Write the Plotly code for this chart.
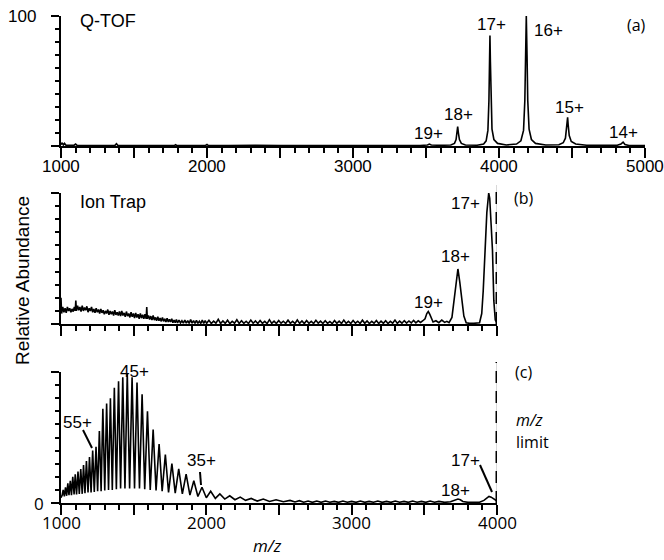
import plotly.graph_objects as go

# ---------------- data ----------------
# (a) Q-TOF spectrum
qtof_mz = [1000, 1008, 1016, 1024, 1034, 1060, 1090, 1100, 1110, 1180, 1260, 1300, 1370, 1380, 1390,
           1500, 1600, 1700, 1775, 1785, 1795, 1900, 1990, 2000, 2010, 2150, 2330, 2500, 2700, 2900,
           3100, 3300, 3460, 3510, 3523, 3536, 3600, 3670, 3695, 3706, 3712, 3717, 3722, 3729, 3742,
           3770, 3850, 3895, 3912, 3924, 3931, 3935, 3938, 3941, 3945, 3952, 3965, 3990, 4050, 4120,
           4150, 4168, 4177, 4182, 4187, 4192, 4197, 4206, 4222, 4250, 4320, 4410, 4440, 4455, 4463,
           4467, 4470, 4474, 4481, 4495, 4525, 4600, 4720, 4810, 4835, 4850, 4863, 4890, 4950, 5000]
qtof_int = [1.0, 2.5, 0.8, 2.0, 0.6, 0.5, 0.6, 1.5, 0.5, 0.4, 0.6, 0.3, 0.5, 1.8, 0.4,
            0.3, 0.4, 0.3, 0.3, 1.0, 0.3, 0.3, 0.4, 1.2, 0.3, 0.3, 0.6, 0.3, 0.3, 0.2,
            0.3, 0.3, 0.4, 0.8, 1.5, 0.8, 0.5, 0.8, 2.0, 5.0, 10.0, 15.0, 10.0, 5.0, 2.0,
            0.8, 0.6, 1.5, 4.0, 12.0, 35.0, 65.0, 85.0, 65.0, 35.0, 13.0, 5.0, 2.0, 0.8, 1.5,
            4.0, 12.0, 35.0, 70.0, 100.0, 70.0, 35.0, 13.0, 5.0, 2.0, 0.8, 1.0, 2.5, 6.0, 13.0,
            18.0, 22.0, 16.0, 8.0, 3.5, 1.5, 0.6, 0.4, 0.6, 1.5, 3.0, 1.2, 0.4, 0.3, 0.3]

# (b) Ion trap spectrum
trap_mz = [1000, 1004, 1012, 1020, 1028, 1036, 1044, 1052, 1060, 1068, 1076, 1084, 1092, 1098, 1102,
           1106, 1114, 1122, 1130, 1138, 1146, 1154, 1162, 1170, 1178, 1186, 1194, 1202, 1210, 1218,
           1226, 1234, 1242, 1250, 1258, 1266, 1274, 1282, 1290, 1298, 1306, 1314, 1322, 1330, 1338,
           1346, 1354, 1362, 1370, 1378, 1386, 1394, 1402, 1410, 1418, 1426, 1434, 1442, 1450, 1458,
           1466, 1474, 1482, 1490, 1498, 1506, 1514, 1522, 1530, 1538, 1546, 1554, 1562, 1570, 1578,
           1586, 1590, 1594, 1602, 1610, 1618, 1626, 1634, 1642, 1650, 1658, 1666, 1674, 1682, 1690,
           1698, 1706, 1714, 1722, 1730, 1738, 1746, 1754, 1762, 1770, 1778, 1786, 1794, 1802, 1812,
           1822, 1832, 1842, 1852, 1862, 1872, 1882, 1892, 1902, 1912, 1922, 1932, 1942, 1952, 1962,
           1972, 1982, 1992, 2002, 2018, 2034, 2050, 2066, 2082, 2098, 2114, 2130, 2146, 2162, 2178,
           2194, 2210, 2226, 2242, 2258, 2274, 2290, 2306, 2322, 2338, 2354, 2370, 2386, 2402, 2418,
           2434, 2450, 2466, 2482, 2498, 2514, 2530, 2546, 2562, 2578, 2594, 2610, 2626, 2642, 2658,
           2674, 2690, 2706, 2722, 2738, 2754, 2770, 2786, 2802, 2818, 2834, 2850, 2866, 2882, 2898,
           2914, 2930, 2946, 2962, 2978, 2994, 3010, 3026, 3042, 3058, 3074, 3090, 3106, 3122, 3138,
           3154, 3170, 3186, 3202, 3218, 3234, 3250, 3266, 3282, 3298, 3314, 3330, 3346, 3362, 3378,
           3394, 3410, 3426, 3442, 3458, 3474, 3490, 3505, 3517, 3527, 3537, 3548, 3560, 3580, 3600,
           3620, 3640, 3655, 3670, 3690, 3705, 3718, 3731, 3744, 3759, 3772, 3788, 3810, 3840, 3865,
           3880, 3895, 3905, 3918, 3930, 3943, 3950, 3960, 3969, 3978, 3988, 4000]
trap_int = [20, 8, 13, 9, 12, 8.5, 13, 10, 12, 9, 11.5, 9.5, 13, 10, 18,
            10, 14, 10.5, 13, 9.5, 14, 10, 12.5, 10.5, 13.5, 9, 12, 10, 13, 9,
            11.5, 8.5, 12, 9, 11, 8, 11.5, 8.5, 10.5, 7.5, 10, 8, 11, 7, 10,
            7.5, 9.5, 6.5, 10.5, 7, 9, 6.5, 9.5, 6, 10, 6.5, 8.5, 5.5, 9.5, 6,
            8, 5, 9, 5.5, 8, 4.5, 8.5, 5, 7.5, 4, 8, 4.5, 7, 4, 7.5,
            4, 13, 4, 6.5, 3.5, 6, 3, 6.5, 3, 5, 2.5, 5.5, 2.5, 4.5, 2,
            5, 2, 4, 1.5, 4.5, 1.5, 3.5, 1.5, 4, 1, 3, 1, 3.5, 0.8, 3,
            0.8, 2.5, 0.6, 3, 0.6, 2.5, 0.5, 3.5, 0.6, 2.5, 0.5, 2.8, 0.5, 2.2, 0.4,
            3, 0.5, 2.5, 0.5, 2.8, 0.4, 2.2, 0.6, 3.5, 0.4, 2.4, 0.5, 2.9, 0.3, 2.0,
            0.6, 3.2, 0.4, 2.5, 0.5, 2.1, 0.4, 3.0, 0.6, 2.3, 0.4, 2.7, 0.5, 2.0, 0.3,
            3.3, 0.5, 2.2, 0.4, 2.6, 0.6, 2.1, 0.4, 2.9, 0.5, 2.0, 0.4, 3.1, 0.5, 2.3,
            0.3, 2.6, 0.5, 2.0, 0.4, 2.8, 0.6, 2.2, 0.4, 2.5, 0.5, 1.9, 0.3, 2.7, 0.5,
            2.2, 0.4, 3.0, 0.5, 2.0, 0.4, 2.6, 0.6, 2.1, 0.4, 2.9, 0.5, 2.3, 0.4, 2.0,
            0.6, 2.7, 0.4, 2.2, 0.5, 2.5, 0.4, 2.0, 0.6, 3.0, 0.5, 2.2, 0.6, 2.6, 0.7,
            2.3, 0.8, 2.8, 0.9, 2.4, 1.2, 2.5, 4, 8, 9.5, 7.5, 4, 1.5, 2.5, 1,
            3, 1.2, 2, 1, 5, 18, 32, 42, 32, 18, 6, 1, 0.5, 0.5, 0.5,
            1, 8, 25, 56, 85, 100, 96, 75, 56, 18, 3, 1]

# (c) Ion trap spectrum, second sample
ion_mz = [1000, 1008, 1015, 1023, 1031, 1039, 1047, 1055, 1064, 1072, 1081, 1090, 1098, 1107, 1117,
          1126, 1136, 1146, 1155, 1165, 1175, 1186, 1196, 1207, 1218, 1229, 1241, 1252, 1264, 1276,
          1288, 1301, 1314, 1327, 1340, 1353, 1367, 1381, 1396, 1410, 1425, 1440, 1456, 1472, 1489,
          1506, 1523, 1540, 1558, 1576, 1595, 1614, 1634, 1654, 1675, 1696, 1718, 1740, 1763, 1786,
          1810, 1835, 1861, 1887, 1914, 1942, 1970, 2000, 2030, 2062, 2093, 2127, 2161, 2197, 2233,
          2270, 2309, 2350, 2392, 2435, 2480, 2530, 2576, 2610, 2640, 2670, 2700, 2730, 2760, 2790,
          2820, 2850, 2880, 2910, 2940, 2970, 3000, 3030, 3060, 3090, 3120, 3150, 3180, 3210, 3240,
          3270, 3300, 3330, 3360, 3390, 3420, 3450, 3480, 3510, 3540, 3570, 3600, 3640, 3680, 3700,
          3715, 3731, 3748, 3765, 3800, 3840, 3880, 3910, 3930, 3945, 3960, 3980, 3995, 4000]
ion_int = [4, 6, 10, 5, 12, 5.5, 15, 6, 17, 6, 20, 6.5, 22, 6.5, 24,
           7, 26, 7, 29, 7.5, 32, 8, 35, 8, 40, 8.5, 43, 9, 55, 9,
           72, 9.5, 76, 10, 80, 10, 88, 10.5, 93, 11, 96, 11, 99, 11, 96,
           11, 92, 11, 83, 10.5, 70, 10, 56, 9.5, 45, 9, 37, 8, 30, 7.5,
           26, 7, 22, 6, 17, 5, 12, 4, 9, 3.5, 7, 3, 5.5, 2.5, 4.5,
           2, 3.5, 1.5, 3, 1.2, 2.5, 1, 2, 0.8, 1.8, 0.6, 1.5, 0.5, 1.5, 0.5,
           1.5, 0.6, 1.2, 0.5, 1.5, 0.6, 1.2, 0.5, 1.5, 0.5, 1.2, 0.6, 1.5, 0.5, 1.2,
           0.5, 1.5, 0.6, 1.2, 0.5, 1.5, 0.6, 1.2, 0.5, 1.5, 0.6, 1.2, 0.5, 1.0, 1.8,
           2.8, 3.0, 2.5, 1.2, 0.5, 0.8, 0.6, 2, 4, 5, 4.5, 3, 2, 1.5]

x_ticks_a = [1000, 1500, 2000, 2500, 3000, 3500, 4000, 4500, 5000]
x_labels_a = ["1000", "", "2000", "", "3000", "", "4000", "", "5000"]
x_ticks_bc = [1000, 1500, 2000, 2500, 3000, 3500, 4000]
x_labels_c = ["1000", "", "2000", "", "3000", "", "4000"]
mz_limit = 4000

# ---------------- layout helpers ----------------
W, H = 664, 560
def fx(p):
    return p / W
def fy(p):
    return 1 - p / H

ARIAL = "Liberation Sans, Arial, sans-serif"
OPEN = "Open Sans, Liberation Sans, sans-serif"

fig = go.Figure()
line_style = dict(color="black", width=1.6)
fig.add_trace(go.Scatter(x=qtof_mz, y=qtof_int, mode="lines", line=line_style,
                         xaxis="x", yaxis="y", showlegend=False, hoverinfo="skip"))
fig.add_trace(go.Scatter(x=trap_mz, y=trap_int, mode="lines", line=line_style,
                         xaxis="x2", yaxis="y2", showlegend=False, hoverinfo="skip"))
fig.add_trace(go.Scatter(x=ion_mz, y=ion_int, mode="lines", line=line_style,
                         xaxis="x3", yaxis="y3", showlegend=False, hoverinfo="skip"))

def xaxis(domain, rng, anchor, tickvals):
    return dict(domain=domain, range=rng, anchor=anchor, showline=True, linecolor="black",
                linewidth=2, ticks="outside", tickvals=tickvals,
                ticklen=10, tickwidth=2, tickcolor="black", showgrid=False, zeroline=False,
                automargin=False, showticklabels=False,
                minor=dict(tickmode="linear", tick0=1000, dtick=100, ticks="outside",
                           ticklen=5, tickwidth=2, tickcolor="black", showgrid=False),
                fixedrange=True)

def yaxis(domain, anchor):
    return dict(domain=domain, range=[0, 100], anchor=anchor, showline=True, linecolor="black",
                linewidth=2, ticks="outside", tickvals=[0, 100],
                ticklen=8, tickwidth=2, tickcolor="black", showgrid=False, zeroline=False,
                automargin=False, showticklabels=False,
                minor=dict(tickmode="linear", tick0=0, dtick=10, ticks="outside",
                           ticklen=4, tickwidth=2, tickcolor="black", showgrid=False),
                fixedrange=True)

fig.update_layout(
    template="none",
    width=W, height=H, autosize=False,
    margin=dict(l=0, r=0, t=0, b=0, pad=0, autoexpand=False),
    paper_bgcolor="white", plot_bgcolor="white",
    font=dict(family=ARIAL, color="black"),
    xaxis=xaxis([fx(61), fx(645)], [1000, 5000], "y", x_ticks_a),
    yaxis=yaxis([fy(146), fy(16)], "x"),
    xaxis2=xaxis([fx(61), fx(497)], [1000, 4000], "y2", x_ticks_bc),
    yaxis2=yaxis([fy(324), fy(193)], "x2"),
    xaxis3=xaxis([fx(61), fx(497)], [1000, 4000], "y3", x_ticks_bc),
    yaxis3=yaxis([fy(503), fy(372)], "x3"),
)

# tick labels, placed on the axes' own scales
for v, t in zip(x_ticks_a, x_labels_a):
    if t:
        fig.add_annotation(text=t, x=v, xref="x", y=fy(166), yref="paper", showarrow=False,
                           xanchor="center", yanchor="middle",
                           font=dict(family=ARIAL, size=17, color="black"))
for v, t in zip(x_ticks_bc, x_labels_c):
    if t:
        fig.add_annotation(text=t, x=v, xref="x3", y=fy(522), yref="paper", showarrow=False,
                           xanchor="center", yanchor="middle",
                           font=dict(family=OPEN, size=17, color="black"))
fig.add_annotation(text="100", x=fx(38), xref="paper", y=100, yref="y", showarrow=False,
                   xanchor="right", yanchor="middle", font=dict(family=ARIAL, size=17, color="black"))
fig.add_annotation(text="0", x=fx(46), xref="paper", y=0, yref="y3", showarrow=False,
                   xanchor="right", yanchor="middle", font=dict(family=OPEN, size=17, color="black"))

# dashed m/z limit lines
for y0, y1, xr in [(185, 324, "x2"), (362, 503, "x3")]:
    fig.add_shape(type="line", xref=xr, yref="paper", x0=mz_limit, x1=mz_limit,
                  y0=fy(y1), y1=fy(y0), line=dict(color="#b0b0b0", width=1))
    fig.add_shape(type="line", xref=xr, yref="paper", x0=mz_limit, x1=mz_limit,
                  y0=fy(y1), y1=fy(y0), line=dict(color="black", width=3, dash="12px,8px"))

# pointer lines
for (x0, y0, x1, y1) in [(83, 430, 92, 448), (200, 472, 201, 485), (480, 465, 492, 492)]:
    fig.add_shape(type="line", xref="paper", yref="paper", x0=fx(x0), y0=fy(y0),
                  x1=fx(x1), y1=fy(y1), line=dict(color="black", width=2))

def label(text, cx, cy, size=17, font=ARIAL, xanchor="center", angle=0):
    fig.add_annotation(text=text, x=fx(cx), y=fy(cy), xref="paper", yref="paper",
                       showarrow=False, xanchor=xanchor, yanchor="middle", textangle=angle,
                       font=dict(family=font, size=size, color="black"))

label("Q-TOF", 108, 21, 18)
label("(a)", 636, 25, 16, OPEN)
label("17+", 491, 25)
label("16+", 548, 30)
label("18+", 458, 115)
label("19+", 428, 133)
label("15+", 569, 107)
label("14+", 623, 132)

label("Ion Trap", 113, 202, 18)
label("(b)", 524, 198, 16, OPEN)
label("17+", 466, 203)
label("18+", 455, 257)
label("19+", 428, 302)

label("45+", 134, 371)
label("55+", 77, 422)
label("35+", 201, 460)
label("17+", 466, 460)
label("18+", 455, 490)
label("(c)", 523, 372, 16, OPEN)
label("<i>m/z</i>", 514, 420, 16, OPEN, "left")
label("limit", 514, 442, 16, OPEN, "left")

label("<i>m/z</i>", 267, 545, 17, OPEN)
label("Relative Abundance", 22, 281, 19, ARIAL, angle=-90)

fig.write_html("out.html",
               config={"displayModeBar": False, "staticPlot": True},
               post_script="document.body.style.margin='0px';document.body.style.overflow='hidden';")
